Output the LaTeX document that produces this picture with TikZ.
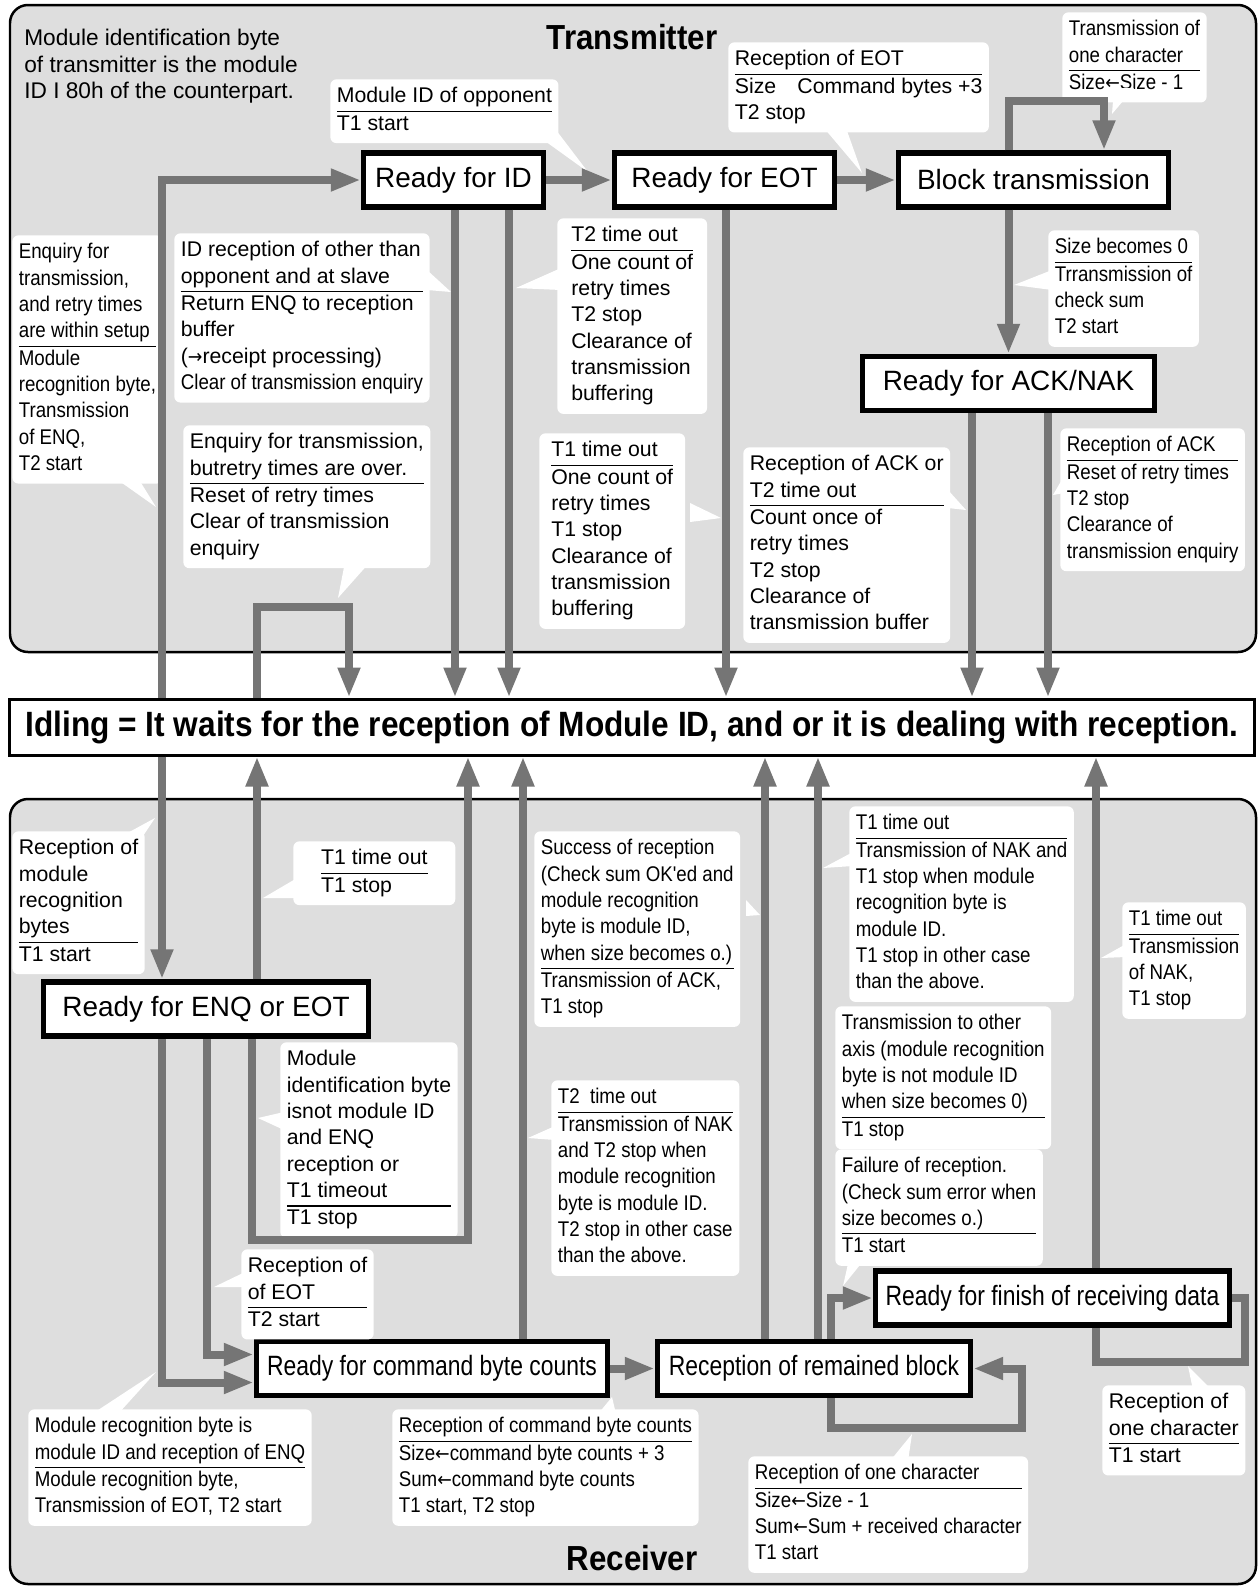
\documentclass[tikz,border=0pt]{standalone}
\usepackage{fontspec}
\setmainfont{Liberation Sans}
\newfontfamily\narrowsans{Liberation Sans}[FakeStretch=0.88]
\newfontfamily\condsans{Liberation Sans}[FakeStretch=0.82]
\newfontfamily\headsans{Liberation Sans}[FakeStretch=0.9]
\newfontfamily\arrowsans{DejaVu Sans}[FakeStretch=0.9]
\usetikzlibrary{arrows.meta,calc}

\definecolor{panelgray}{gray}{0.87}
\definecolor{flowgray}{gray}{0.46}
\setlength\arrayrulewidth{0.6pt}

\newcommand\callfont{\fontsize{12.1}{15}\selectfont}
\newcommand\narrowfont{\narrowsans\fontsize{12.1}{15}\selectfont}
\newcommand\statefont{\fontsize{15.9}{19}\selectfont}
\newcommand\condstatefont{\condsans\fontsize{15.9}{19}\selectfont}
\newcommand\headfont{\headsans\bfseries\fontsize{19.8}{24}\selectfont}
\newcommand\larr{{\arrowsans\fontsize{11}{15}\selectfont ←}}
\newcommand\rarr{{\arrowsans\fontsize{11}{15}\selectfont →}}
% condition above the rule, action below it
\newcommand\callbody[2]{\begin{tabular}{@{}l@{}}#1\\\hline #2\end{tabular}}
\newcommand\pointer[3]{\fill[white] (#1) -- (#3) -- (#2) -- cycle;}

\tikzset{
  panel/.style={draw=black,line width=0.05cm,fill=panelgray,rounded corners=0.36cm},
  stbox/.style={draw=black,line width=0.11cm,fill=white,minimum height=1.08cm,inner sep=0pt,font=\statefont},
  rstbox/.style={stbox,font=\condstatefont},
  callout/.style={fill=white,rounded corners=0.12cm,anchor=north west,inner xsep=0.13cm,inner ysep=0.1cm,font=\callfont},
  ncallout/.style={callout,font=\narrowfont},
  flow/.style={draw=flowgray,line width=0.16cm,-{Triangle[length=0.6cm,width=0.42cm]}},
  flowline/.style={draw=flowgray,line width=0.16cm}
}

\begin{document}
\begin{tikzpicture}[x=0.02cm,y=-0.02cm,line join=miter]
  \useasboundingbox (0,0) rectangle (1259,1586);
  \draw[panel] (10,5) rectangle (1256,652);
  \draw[panel] (10,799) rectangle (1256,1584);

  % lanes of the vertical connectors
  \coordinate (lnA) at (162,0);
  \coordinate (lnB) at (257,0);
  \coordinate (lnC) at (349,0);
  \coordinate (lnD) at (455,0);
  \coordinate (lnE) at (509,0);
  \coordinate (lnF) at (726,0);
  \coordinate (lnG) at (972,0);
  \coordinate (lnH) at (1048,0);
  \coordinate (lnI) at (207,0);
  \coordinate (lnK) at (468,0);
  \coordinate (lnL) at (523,0);
  \coordinate (lnM) at (765,0);
  \coordinate (lnN) at (818,0);
  \coordinate (lnO) at (831,0);
  \coordinate (lnQ) at (1096,0);
  \coordinate (lnU) at (1104,0);
  \coordinate (blkloop) at (1009,101);
  \coordinate (idleloop) at (257,607);
  \coordinate (enqloop) at (252,1240);
  \coordinate (remloop) at (1022,1428);
  \coordinate (finloop) at (1245,1362);

  \node[font=\headfont] (ttitle) at (632,37) {Transmitter};
  \node[font=\headfont] (rtitle) at (632,1558) {Receiver};

  \node[draw=black,line width=0.06cm,fill=white,minimum width=24.9cm,minimum height=1.12cm,font=\headsans\bfseries\fontsize{20}{24}\selectfont] (idle) at (632,727)
    {Idling = It waits for the reception of Module ID, and or it is dealing with reception.};

  % transmitter states
  \node[stbox,minimum width=3.6cm] (rid) at (453.5,180) {Ready for ID};
  \node[stbox,minimum width=4.4cm] (reot) at (724.5,180) {Ready for EOT};
  \node[stbox,minimum width=5.4cm] (blk) at (1033.5,180) {Block transmission};
  \node[stbox,minimum width=5.84cm] (ack) at (1008.5,383.5) {Ready for ACK/NAK};

  % receiver states
  \node[stbox,minimum width=6.5cm] (enq) at (206,1009) {Ready for ENQ or EOT};
  \node[rstbox,minimum width=7.02cm] (cmd) at (432,1368.5) {Ready for command byte counts};
  \node[rstbox,minimum width=6.26cm] (rem) at (814,1368.5) {Reception of remained block};
  \node[rstbox,minimum width=7.08cm] (fin) at (1052.5,1298) {Ready for finish of receiving data};

  \node[anchor=north west,inner sep=0pt,font=\fontsize{12.9}{15}\selectfont] (txnote) at (24,27)
    {\begin{tabular}{@{}l@{}}Module identification byte\\of transmitter is the module\\ID I 80h of the counterpart.\end{tabular}};

  % transmitter notes
  \node[callout] (cidopp) at (330,79) {\callbody{Module ID of opponent}{T1 start}};
  \node[callout] (ceot) at (728,42) {\callbody{Reception of EOT}{Size\quad Command bytes +3\\T2 stop}};
  \node[ncallout] (conechar) at (1062,12) {\callbody{Transmission of\\one character}{Size\larr Size - 1}};
  \node[ncallout] (csizezero) at (1048,230) {\callbody{Size becomes 0}{Trransmission of\\check sum\\T2 start}};
  \node[ncallout] (cenq) at (12,235) {\callbody{Enquiry for\\transmission,\\and retry times\\are within setup}{Module\\recognition byte,\\Transmission\\of ENQ,\\T2 start}};
  \node[callout] (cslave) at (174,233) {\callbody{ID reception of other than\\opponent and at slave}{Return ENQ to reception\\buffer\\(\rarr receipt processing)\\{\narrowsans Clear of transmission enquiry}}};
  \node[callout,inner xsep=0.28cm] (ctwo) at (557,218) {\callbody{T2 time out}{One count of\\retry times\\T2 stop\\Clearance of\\transmission\\buffering}};
  \node[callout,inner xsep=0.24cm] (cone) at (539,433) {\callbody{T1 time out}{One count of\\retry times\\T1 stop\\Clearance of\\transmission\\buffering}};
  \node[callout] (cover) at (183,425) {\callbody{Enquiry for transmission,\\butretry times are over.}{Reset of retry times\\Clear of transmission\\enquiry}};
  \node[callout] (cackto) at (743,447) {\callbody{Reception of ACK or\\T2 time out}{Count once of\\retry times\\T2 stop\\Clearance of\\transmission buffer}};
  \node[ncallout] (cack) at (1060,428) {\callbody{Reception of ACK}{Reset of retry times\\T2 stop\\Clearance of\\transmission enquiry}};

  % receiver notes
  \node[callout] (crecog) at (12,831) {\callbody{Reception of\\module\\recognition\\bytes}{T1 start}};
  \node[callout,minimum width=3.24cm] (cenqto) at (293,841) {\callbody{T1 time out}{T1 stop}};
  \node[ncallout] (csuccess) at (534,831) {\callbody{Success of reception\\(Check sum OK'ed and\\module recognition\\byte is module ID,\\when size becomes o.)}{Transmission of ACK,\\T1 stop}};
  \node[ncallout] (cnak) at (849,806) {\callbody{T1 time out}{Transmission of NAK and\\T1 stop when module\\recognition byte is\\module ID.\\T1 stop in other case\\than the above.}};
  \node[ncallout] (cfinto) at (1122,902) {\callbody{T1 time out}{Transmission\\of NAK,\\T1 stop}};
  \node[ncallout] (caxis) at (835,1006) {\callbody{Transmission to other\\axis (module recognition\\byte is not module ID\\when size becomes 0)}{T1 stop}};
  \node[ncallout] (cfail) at (835,1149) {\callbody{Failure of reception.\\(Check sum error when\\size becomes o.)}{T1 start}};
  \node[ncallout] (ctwonak) at (551,1080) {\callbody{T2\ \ time out}{Transmission of NAK\\and T2 stop when\\module recognition\\byte is module ID.\\T2 stop in other case\\than the above.}};
  \node[callout] (cnotid) at (280,1042) {\callbody{Module\\identification byte\\isnot module ID\\and ENQ\\reception or\\T1 timeout}{T1 stop}};
  \node[callout] (crxeot) at (241,1249) {\callbody{Reception of\\of EOT}{T2 start}};
  \node[ncallout] (cisid) at (28,1409) {\callbody{Module recognition byte is\\module ID and reception of ENQ}{Module recognition byte,\\Transmission of EOT, T2 start}};
  \node[ncallout] (ccount) at (392,1409) {\callbody{Reception of command byte counts}{Size\larr command byte counts + 3\\Sum\larr command byte counts\\T1 start, T2 stop}};
  \node[ncallout] (cchar) at (748,1456) {\callbody{Reception of one character}{Size\larr Size - 1\\Sum\larr Sum + received character\\T1 start}};
  \node[callout] (cfinchar) at (1102,1385) {\callbody{Reception of\\one character}{T1 start}};

  % pointers of the notes
  \pointer{538,136}{556,130}{588,172}
  \pointer{824,128}{846,128}{862,173}
  \pointer{1114,88}{1134,88}{1112,114}
  \pointer{1052,270}{1052,290}{1014,285}
  \pointer{115,478}{138,478}{156,507}
  \pointer{427,270}{427,290}{451,292}
  \pointer{561,268}{561,290}{516,288}
  \pointer{690,503}{690,522}{721,518}
  \pointer{345,562}{370,562}{338,598}
  \pointer{948,490}{948,508}{966,510}
  \pointer{1064,476}{1064,493}{1053,495}
  \pointer{122,836}{143,836}{155,818}
  \pointer{297,878}{297,898}{263,898}
  \pointer{746,900}{746,916}{760,915}
  \pointer{853,852}{853,866}{823,868}
  \pointer{1126,944}{1126,957}{1101,958}
  \pointer{850,1255}{868,1255}{843,1286}
  \pointer{555,1126}{555,1140}{528,1138}
  \pointer{284,1112}{284,1130}{258,1118}
  \pointer{245,1272}{245,1287}{214,1287}
  \pointer{92,1414}{118,1414}{156,1372}
  \pointer{598,1414}{616,1414}{612,1397}
  \pointer{890,1461}{908,1461}{912,1434}
  \pointer{1193,1390}{1212,1390}{1188,1366}

  % transmitter
  \draw[flow] (idle.north -| lnA) |- (rid.west);
  \draw[flow] (rid) -- (reot);
  \draw[flow] (reot) -- (blk);
  \draw[flow] (blk.north -| blkloop) -- (blkloop) -| (blk.north -| lnU);
  \draw[flow] (blk.south -| ack.north) -- (ack.north);
  \draw[flow] (rid.south -| lnD) -- (idle.north -| lnD);
  \draw[flow] (rid.south -| lnE) -- (idle.north -| lnE);
  \draw[flow] (reot.south -| lnF) -- (idle.north -| lnF);
  \draw[flow] (ack.south -| lnG) -- (idle.north -| lnG);
  \draw[flow] (ack.south -| lnH) -- (idle.north -| lnH);
  \draw[flow] (idle.north -| idleloop) -- (idleloop) -| (idle.north -| lnC);

  % receiver
  \draw[flow] (idle.south -| lnA) -- (enq.north -| lnA);
  \draw[flow] (enq.north -| lnB) -- (idle.south -| lnB);
  \draw[flow] (enq.south -| enqloop) -- (enqloop) -| (idle.south -| lnK);
  \draw[flow] (enq.south -| lnA) |- ($(cmd.west)+(0,14)$);
  \draw[flow] (enq.south -| lnI) |- ($(cmd.west)+(0,-14)$);
  \draw[flow] (cmd.north -| lnL) -- (idle.south -| lnL);
  \draw[flow] (cmd) -- (rem);
  \draw[flow] (rem.north -| lnM) -- (idle.south -| lnM);
  \draw[flow] (rem.north -| lnN) -- (idle.south -| lnN);
  \draw[flow] (rem.north -| lnO) |- (fin.west);
  \draw[flow] (rem.south -| lnO) |- (remloop) |- (rem.east);
  \draw[flowline] (fin.east) -| (finloop) -| (fin.south -| lnQ);
  \draw[flow] (fin.north -| lnQ) -- (idle.south -| lnQ);
\end{tikzpicture}
\end{document}
